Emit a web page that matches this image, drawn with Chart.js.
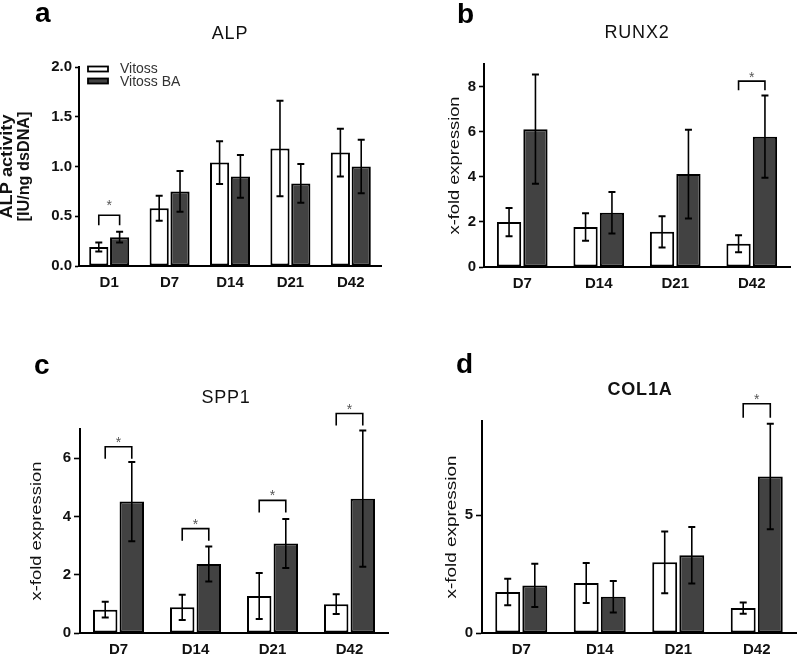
<!DOCTYPE html>
<html>
<head>
<meta charset="utf-8">
<script src="https://cdn.jsdelivr.net/npm/chart.js@4.4.1/dist/chart.umd.min.js"></script>
<style>
  html, body { margin: 0; padding: 0; background: #fff; }
  #wrap { position: relative; width: 800px; height: 656px; overflow: hidden; background: #fff; }
  .cv { position: absolute; }
  .letter { position: absolute; font: bold 28px "Liberation Sans", Arial, sans-serif; line-height: 28px; color: #000; }
  .title { position: absolute; width: 200px; text-align: center; font: 18px "Liberation Sans", Arial, sans-serif; line-height: 18px; letter-spacing: 0.8px; color: #111; }
</style>
</head>
<body>
<div id="wrap">
  <canvas id="ca" class="cv" width="400" height="328" style="left:0;top:0"></canvas>
  <canvas id="cb" class="cv" width="400" height="328" style="left:400px;top:0"></canvas>
  <canvas id="cc" class="cv" width="400" height="328" style="left:0;top:328px"></canvas>
  <canvas id="cd" class="cv" width="400" height="328" style="left:400px;top:328px"></canvas>
  <div class="letter" style="left:35px;top:-1px">a</div>
  <div class="letter" style="left:457px;top:0px">b</div>
  <div class="letter" style="left:34px;top:351px">c</div>
  <div class="letter" style="left:456px;top:350px">d</div>
  <div class="title" style="left:130px;top:24px">ALP</div>
  <div class="title" style="left:537px;top:23px">RUNX2</div>
  <div class="title" style="left:126px;top:388px">SPP1</div>
  <div class="title" style="left:540px;top:380px;font-weight:bold">COL1A</div>
</div>
<script>
// ---------- DATA ----------
const seriesNames = ['Vitoss', 'Vitoss BA'];

// Panel a: ALP
const catsA = ['D1', 'D7', 'D14', 'D21', 'D42'];
const vitossA = [0.19, 0.58, 1.04, 1.18, 1.14];
const vitossErrA = [0.045, 0.125, 0.215, 0.48, 0.24];
const vitossBaA = [0.29, 0.75, 0.90, 0.83, 1.00];
const vitossBaErrA = [0.055, 0.205, 0.215, 0.195, 0.27];
const sigA = [0.51, null, null, null, null];
const tickValsA = [0, 0.5, 1.0, 1.5, 2.0];
const tickLabelsA = ['0.0', '0.5', '1.0', '1.5', '2.0'];
const yTitleA = ['ALP activity', '[IU/ng dsDNA]'];

// Panel b: RUNX2
const catsB = ['D7', 'D14', 'D21', 'D42'];
const vitossB = [1.99, 1.77, 1.56, 1.03];
const vitossErrB = [0.63, 0.61, 0.69, 0.38];
const vitossBaB = [6.11, 2.40, 4.12, 5.78];
const vitossBaErrB = [2.42, 0.92, 1.97, 1.82];
const sigB = [null, null, null, 8.24];
const tickValsB = [0, 2, 4, 6, 8];
const tickLabelsB = ['0', '2', '4', '6', '8'];

// Panel c: SPP1
const catsC = ['D7', 'D14', 'D21', 'D42'];
const vitossC = [0.80, 0.88, 1.27, 0.99];
const vitossErrC = [0.27, 0.43, 0.79, 0.34];
const vitossBaC = [4.51, 2.37, 3.07, 4.61];
const vitossBaErrC = [1.36, 0.60, 0.84, 2.34];
const sigC = [6.39, 3.58, 4.55, 7.53];
const tickValsC = [0, 2, 4, 6];
const tickLabelsC = ['0', '2', '4', '6'];

// Panel d: COL1A
const catsD = ['D7', 'D14', 'D21', 'D42'];
const vitossD = [1.74, 2.12, 3.00, 1.06];
const vitossErrD = [0.56, 0.85, 1.31, 0.24];
const vitossBaD = [2.02, 1.54, 3.30, 6.64];
const vitossBaErrD = [0.92, 0.67, 1.20, 2.24];
const sigD = [null, null, null, 9.73];
const tickValsD = [0, 5];
const tickLabelsD = ['0', '5'];

const yTitleExpr = ['x-fold expression'];

// ---------- STYLE / RENDER ----------
const FONT = '"Liberation Sans", Arial, sans-serif';
const WHITE = '#ffffff';
const DARK = '#424242';

const annotPlugin = {
  id: 'annot',
  afterDatasetsDraw(chart, args, o) {
    const ctx = chart.ctx;
    const ys = chart.scales.y;
    ctx.save();
    ctx.strokeStyle = '#000';
    o.errors.forEach((errs, di) => {
      const meta = chart.getDatasetMeta(di);
      const vals = chart.data.datasets[di].data;
      meta.data.forEach((bar, i) => {
        const yt = ys.getPixelForValue(vals[i] + errs[i]);
        const yb = ys.getPixelForValue(vals[i] - errs[i]);
        ctx.lineWidth = 1.6;
        ctx.beginPath();
        ctx.moveTo(bar.x, yt); ctx.lineTo(bar.x, yb);
        ctx.stroke();
        ctx.lineWidth = 2;
        ctx.beginPath();
        ctx.moveTo(bar.x - o.cap, yt); ctx.lineTo(bar.x + o.cap, yt);
        ctx.moveTo(bar.x - o.cap, yb); ctx.lineTo(bar.x + o.cap, yb);
        ctx.stroke();
      });
    });
    o.sig.forEach((s, i) => {
      if (s === null) return;
      const x1 = chart.getDatasetMeta(0).data[i].x;
      const x2 = chart.getDatasetMeta(1).data[i].x;
      const yy = ys.getPixelForValue(s);
      ctx.lineWidth = 1.6;
      ctx.beginPath();
      ctx.moveTo(x1, yy + o.leg); ctx.lineTo(x1, yy); ctx.lineTo(x2, yy); ctx.lineTo(x2, yy + o.leg);
      ctx.stroke();
      ctx.fillStyle = '#555';
      ctx.font = '14px ' + FONT;
      ctx.textAlign = 'center';
      ctx.textBaseline = 'alphabetic';
      ctx.fillText('*', (x1 + x2) / 2, yy - o.starGap + 0.57 * 14);
    });
    ctx.restore();
  }
};

const legendPlugin = {
  id: 'boxLegend',
  afterDraw(chart, args, o) {
    if (!o.show) return;
    const ctx = chart.ctx;
    ctx.save();
    chart.data.datasets.forEach((ds, i) => {
      const y = o.y + i * o.gap;
      ctx.fillStyle = ds.backgroundColor;
      ctx.fillRect(o.x, y - 2.5, 20, 5);
      ctx.strokeStyle = '#000';
      ctx.lineWidth = 1.8;
      ctx.strokeRect(o.x, y - 2.5, 20, 5);
      ctx.fillStyle = '#333';
      ctx.font = '14px ' + FONT;
      ctx.textAlign = 'left';
      ctx.textBaseline = 'middle';
      ctx.fillText(ds.label, o.tx, y + o.tdy[i]);
    });
    ctx.restore();
  }
};

// vertical axis title, stretched along its length to match the reference
const yTitlePlugin = {
  id: 'yTitle',
  afterDraw(chart, args, o) {
    const ctx = chart.ctx;
    const ca = chart.chartArea;
    const cy = (ca.top + ca.bottom) / 2;
    o.lines.forEach((txt, i) => {
      ctx.save();
      ctx.font = o.weight + ' ' + o.size + 'px ' + FONT;
      const w = ctx.measureText(txt).width;
      ctx.translate(o.x[i], cy);
      ctx.rotate(-Math.PI / 2);
      ctx.scale(o.len[i] / w, 1);
      ctx.textAlign = 'center';
      ctx.textBaseline = 'middle';
      ctx.fillStyle = '#111';
      ctx.fillText(txt, 0, 0);
      ctx.restore();
    });
  }
};

function makeChart(id, cfg) {
  const ds = [
    { label: seriesNames[0], data: cfg.v1, backgroundColor: WHITE, borderColor: '#000', borderWidth: 2, borderSkipped: false },
    { label: seriesNames[1], data: cfg.v2, backgroundColor: DARK, borderColor: '#000', borderWidth: 2, borderSkipped: false }
  ];
  return new Chart(document.getElementById(id), {
    type: 'bar',
    data: { labels: cfg.cats, datasets: ds },
    plugins: [annotPlugin, legendPlugin, yTitlePlugin],
    options: {
      responsive: false,
      animation: false,
      devicePixelRatio: 1,
      layout: { padding: cfg.pad },
      datasets: { bar: { categoryPercentage: 0.69, barPercentage: 0.92 } },
      plugins: {
        legend: { display: false },
        title: { display: false },
        tooltip: { enabled: false },
        annot: { errors: [cfg.e1, cfg.e2], sig: cfg.sig, cap: 3.5, leg: cfg.leg, starGap: cfg.starGap },
        boxLegend: cfg.legend || { show: false },
        yTitle: cfg.yt
      },
      scales: {
        x: {
          grid: { display: false, drawTicks: false },
          border: { display: true, color: '#000', width: 2 },
          ticks: { color: '#111', font: { family: FONT, size: 15, weight: 'bold' }, padding: 8, maxRotation: 0 },
          afterFit(s) { s.height = cfg.xh; }
        },
        y: {
          min: 0, max: cfg.max,
          grid: { display: true, drawOnChartArea: false, drawTicks: true, tickLength: cfg.tl, color: '#000', tickWidth: 1.6 },
          border: { display: true, color: '#000', width: 2 },
          afterBuildTicks(s) { s.ticks = cfg.tv.map(v => ({ value: v })); },
          ticks: {
            color: '#111', font: { family: FONT, size: 15, weight: 'bold' }, padding: 3,
            callback: (v, i) => cfg.tlab[i]
          },
          title: { display: false },
          afterFit(s) { s.width = cfg.yw; }
        }
      }
    }
  });
}

makeChart('ca', {
  cats: catsA, v1: vitossA, v2: vitossBaA, e1: vitossErrA, e2: vitossBaErrA, sig: sigA,
  max: 2.0, tv: tickValsA, tlab: tickLabelsA, tl: 4,
  pad: { left: 0, right: 19, top: 67, bottom: 32 }, yw: 79, xh: 30,
  yt: { lines: yTitleA, size: 16, weight: 'bold', x: [8, 25], len: [104, 110] },
  leg: 10, starGap: 13,
  legend: { show: true, x: 88, y: 69, gap: 12, tx: 120, tdy: [0.5, 1] }
});
makeChart('cb', {
  cats: catsB, v1: vitossB, v2: vitossBaB, e1: vitossErrB, e2: vitossBaErrB, sig: sigB,
  max: 9, tv: tickValsB, tlab: tickLabelsB, tl: 5,
  pad: { left: 0, right: 10, top: 64, bottom: 31 }, yw: 84, xh: 30,
  yt: { lines: yTitleExpr, size: 15, weight: 'normal', x: [55], len: [138] },
  leg: 9, starGap: 7
});
makeChart('cc', {
  cats: catsC, v1: vitossC, v2: vitossBaC, e1: vitossErrC, e2: vitossBaErrC, sig: sigC,
  max: 7, tv: tickValsC, tlab: tickLabelsC, tl: 6,
  pad: { left: 0, right: 12, top: 101, bottom: 0 }, yw: 80, xh: 23,
  yt: { lines: yTitleExpr, size: 15, weight: 'normal', x: [37], len: [139] },
  leg: 12, starGap: 8
});
makeChart('cd', {
  cats: catsD, v1: vitossD, v2: vitossBaD, e1: vitossErrD, e2: vitossBaErrD, sig: sigD,
  max: 9, tv: tickValsD, tlab: tickLabelsD, tl: 6,
  pad: { left: 0, right: 4, top: 93, bottom: 0 }, yw: 82, xh: 23,
  yt: { lines: yTitleExpr, size: 15, weight: 'normal', x: [52], len: [143] },
  leg: 14, starGap: 8
});
</script>
</body>
</html>
